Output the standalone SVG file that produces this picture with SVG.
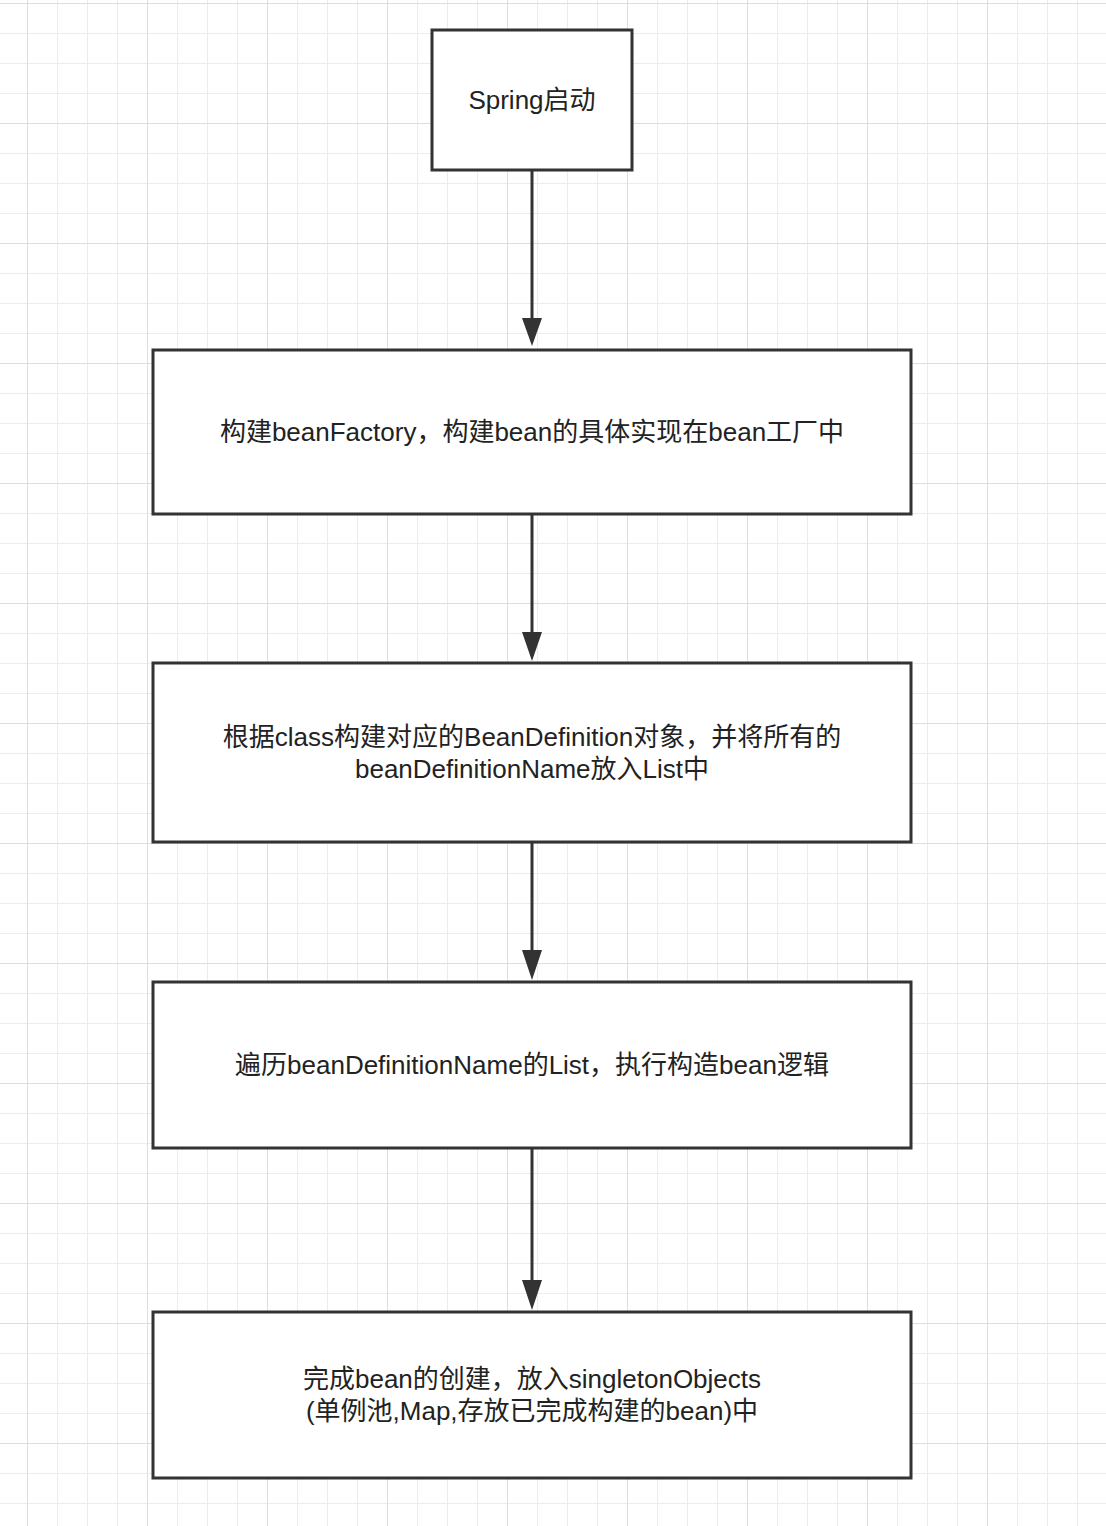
<svg xmlns="http://www.w3.org/2000/svg" width="1106" height="1526" viewBox="0 0 1106 1526">
<defs>
<pattern id="minor" x="27" y="3" width="30" height="30" patternUnits="userSpaceOnUse"><path d="M0 0H30M0 0V30" fill="none" stroke="#ececec" stroke-width="2"/></pattern>
<pattern id="major" x="27" y="3" width="120" height="120" patternUnits="userSpaceOnUse"><path d="M0 0H120M0 0V120" fill="none" stroke="#dedede" stroke-width="2"/></pattern>
<marker id="ah" viewBox="0 0 20 30" refX="20" refY="10" markerWidth="20" markerHeight="30" markerUnits="userSpaceOnUse" orient="auto"><path d="M0 0L30 10L0 20Z" fill="#333" transform="scale(0.67 1)"/></marker>
</defs>
<style>
.box{fill:#fff;stroke:#333;stroke-width:3}
.t{font-family:"Liberation Sans","Noto Sans CJK SC",sans-serif;font-size:26px;fill:#222;text-anchor:middle}
.c{stroke:#333;stroke-width:3;fill:none}
.h{fill:#333}
</style>
<rect width="1106" height="1526" fill="#fff"/>
<rect width="1106" height="1526" fill="url(#minor)"/>
<rect width="1106" height="1526" fill="url(#major)"/>
<g id="connectors">
<line class="c" x1="532" y1="170" x2="532" y2="320"/><path class="h" d="M522 318H542L532 346Z"/>
<line class="c" x1="532" y1="514" x2="532" y2="634"/><path class="h" d="M522 632H542L532 661Z"/>
<line class="c" x1="532" y1="842" x2="532" y2="952"/><path class="h" d="M522 950H542L532 980Z"/>
<line class="c" x1="532" y1="1148" x2="532" y2="1282"/><path class="h" d="M522 1280H542L532 1310Z"/>
</g>
<g id="n1"><rect class="box" x="432" y="30" width="200" height="140"/><text class="t" x="532" y="109">Spring启动</text></g>
<g id="n2"><rect class="box" x="153" y="350" width="758" height="164"/><text class="t" x="532" y="441">构建beanFactory，构建bean的具体实现在bean工厂中</text></g>
<g id="n3"><rect class="box" x="153" y="663" width="758" height="179"/><text class="t" x="532" y="746">根据class构建对应的BeanDefinition对象，并将所有的</text><text class="t" x="532" y="778">beanDefinitionName放入List中</text></g>
<g id="n4"><rect class="box" x="153" y="982" width="758" height="166"/><text class="t" x="532" y="1074">遍历beanDefinitionName的List，执行构造bean逻辑</text></g>
<g id="n5"><rect class="box" x="153" y="1312" width="758" height="166"/><text class="t" x="532" y="1388">完成bean的创建，放入singletonObjects</text><text class="t" x="532" y="1420">(单例池,Map,存放已完成构建的bean)中</text></g>
</svg>
